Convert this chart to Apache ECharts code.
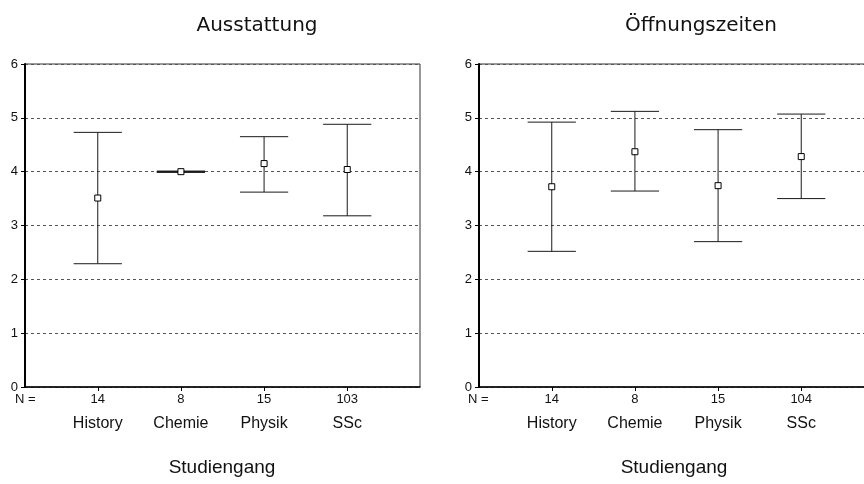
<!DOCTYPE html>
<html>
<head>
<meta charset="utf-8">
<script src="https://cdn.jsdelivr.net/npm/echarts@6/dist/echarts.min.js"></script>
<style>
html,body{margin:0;padding:0;background:#fff;}
#chart{width:864px;height:484px;}
</style>
</head>
<body>
<div id="chart"></div>
<script>
const categories = ['History', 'Chemie', 'Physik', 'SSc'];
const yTicks = [0, 1, 2, 3, 4, 5, 6];

const nAusstattung = [14, 8, 15, 103];
const meanAusstattung = [3.51, 4.00, 4.15, 4.04];
const lowAusstattung = [2.29, 4.00, 3.62, 3.18];
const highAusstattung = [4.73, 4.00, 4.65, 4.88];

const nOeffnung = [14, 8, 15, 104];
const meanOeffnung = [3.72, 4.37, 3.74, 4.28];
const lowOeffnung = [2.52, 3.64, 2.70, 3.50];
const highOeffnung = [4.92, 5.12, 4.78, 5.07];

const panelTitles = ['Ausstattung', 'Öffnungszeiten'];
const xTitle = 'Studiengang';
const nLabel = 'N =';

const positions = categories.map((c, i) => i + 1);

function makeErrData(low, high) {
  return positions.map((x, i) => [x, low[i], high[i]]);
}
function makeMeanData(mean) {
  return positions.map((x, i) => [x, mean[i]]);
}

function renderErr(params, api) {
  const x = api.value(0);
  const lo = api.coord([x, api.value(1)]);
  const hi = api.coord([x, api.value(2)]);
  const half = api.size([0.29, 0])[0];
  const style = { stroke: '#1a1a1a', lineWidth: 1 };
  const flat = Math.abs(lo[1] - hi[1]) < 0.5;
  return {
    type: 'group',
    children: [
      { type: 'line', shape: { x1: lo[0], y1: lo[1], x2: hi[0], y2: hi[1] }, style },
      { type: 'line', shape: { x1: hi[0] - half, y1: hi[1], x2: hi[0] + half, y2: hi[1] }, style: { stroke: '#1a1a1a', lineWidth: flat ? 2 : 1 } },
      { type: 'line', shape: { x1: lo[0] - half, y1: lo[1], x2: lo[0] + half, y2: lo[1] }, style: { stroke: '#1a1a1a', lineWidth: flat ? 2 : 1 } }
    ]
  };
}

const gridDefs = [
  { left: 25, top: 64, width: 395, height: 323 },
  { left: 479, top: 64, width: 395, height: 323 }
];
const nLists = [nAusstattung, nOeffnung];

const grids = gridDefs.map(g => Object.assign({
  show: true, borderColor: '#333', borderWidth: 1, backgroundColor: 'transparent',
  containLabel: false, outerBoundsMode: 'none'
}, g));

const xAxes = [0, 1].map(k => ({
  type: 'value', gridIndex: k, min: 0.125, max: 4.875,
  splitLine: { show: false },
  axisLine: { show: true, lineStyle: { color: '#000', width: 1.5 } },
  axisTick: { show: true, customValues: positions, length: 4, lineStyle: { color: '#000' } },
  axisLabel: {
    show: true, customValues: positions, margin: 2,
    formatter: v => {
      const i = Math.round(v) - 1;
      return '{n|' + nLists[k][i] + '}\n{c|' + categories[i] + '}';
    },
    rich: {
      n: { fontFamily: 'Liberation Sans', fontSize: 13, color: '#111', lineHeight: 20 },
      c: { fontFamily: 'Liberation Sans', fontSize: 16, color: '#111', lineHeight: 30 }
    }
  }
}));

const yAxes = [0, 1].map(k => ({
  type: 'value', gridIndex: k, min: 0, max: 6, interval: 1,
  axisLine: { show: true, lineStyle: { color: '#000', width: 2 } },
  axisTick: { show: true, length: 4, lineStyle: { color: '#000' } },
  axisLabel: {
    margin: 7, fontFamily: 'Liberation Sans', fontSize: 13, color: '#111',
    formatter: v => yTicks.includes(v) ? String(v) : ''
  },
  splitLine: { show: true, lineStyle: { color: '#555', width: 1, type: [3, 3] } }
}));

const series = [];
[[lowAusstattung, highAusstattung, meanAusstattung], [lowOeffnung, highOeffnung, meanOeffnung]].forEach((d, k) => {
  series.push({
    type: 'custom', xAxisIndex: k, yAxisIndex: k,
    renderItem: renderErr, data: makeErrData(d[0], d[1]), silent: true, z: 3
  });
  series.push({
    type: 'scatter', xAxisIndex: k, yAxisIndex: k,
    symbol: 'rect', symbolSize: 6,
    itemStyle: { color: '#fff', borderColor: '#000', borderWidth: 1, opacity: 1 },
    data: makeMeanData(d[2]), silent: true, z: 4
  });
});

const titleX = [257, 701];
const xTitleX = [222, 674];
const nX = [15, 468];
const graphic = [];
for (let k = 0; k < 2; k++) {
  graphic.push({ type: 'text', x: titleX[k], y: 26, style: { text: panelTitles[k], font: '20px "DejaVu Sans"', fill: '#111', textAlign: 'center', textVerticalAlign: 'middle' } });
  graphic.push({ type: 'text', x: xTitleX[k], y: 468, style: { text: xTitle, font: '19px "Liberation Sans"', fill: '#111', textAlign: 'center', textVerticalAlign: 'middle' } });
  graphic.push({ type: 'text', x: nX[k], y: 399, style: { text: nLabel, font: '13px "Liberation Sans"', fill: '#111', textAlign: 'left', textVerticalAlign: 'middle' } });
}

const chart = echarts.init(document.getElementById('chart'), null, { renderer: 'canvas' });
chart.setOption({
  animation: false,
  backgroundColor: '#fff',
  grid: grids,
  xAxis: xAxes,
  yAxis: yAxes,
  series: series,
  graphic: graphic
});
</script>
</body>
</html>
